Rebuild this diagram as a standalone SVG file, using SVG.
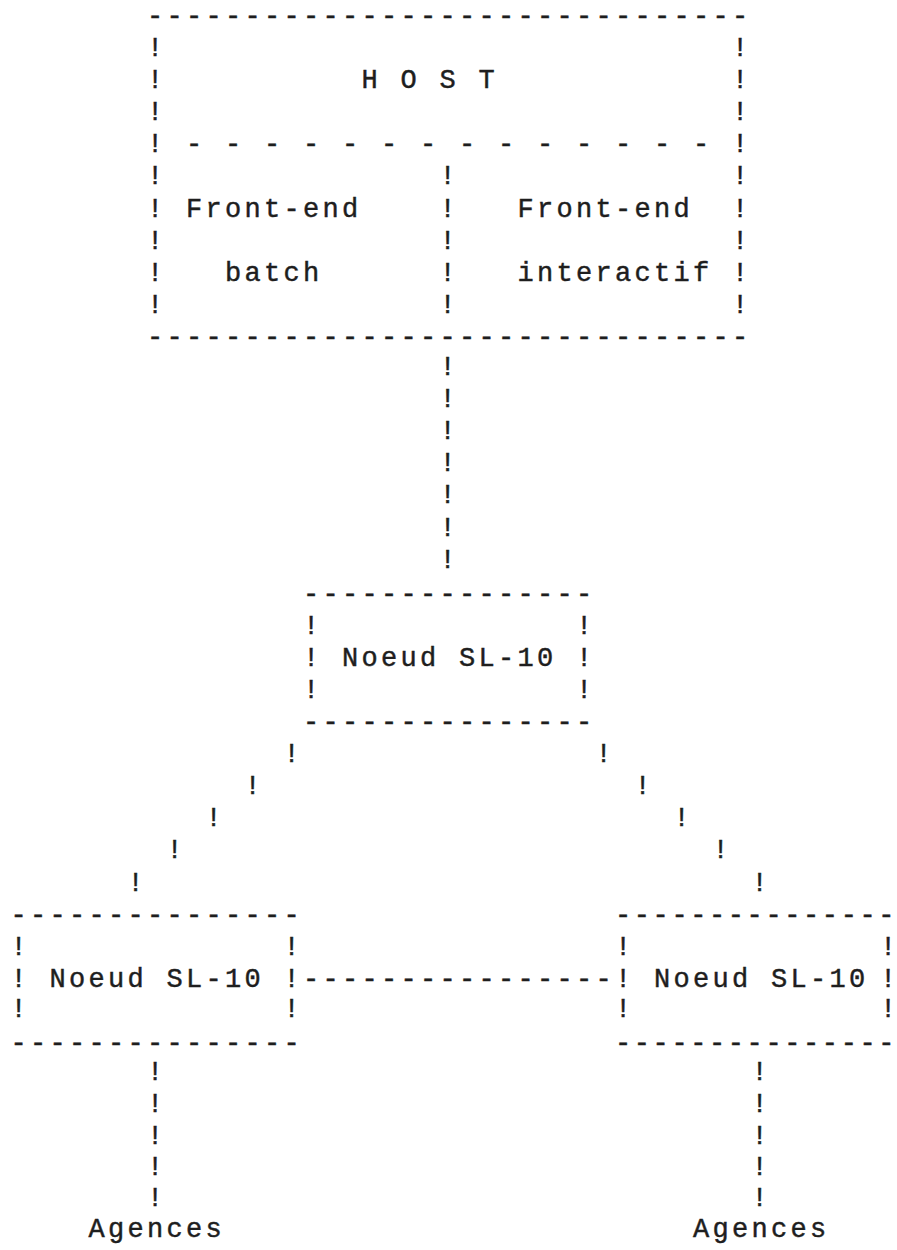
<svg xmlns="http://www.w3.org/2000/svg" width="897" height="1250" viewBox="0 0 897 1250">
<style>
.t{font-family:"Liberation Mono","DejaVu Sans Mono",monospace;font-size:27px;letter-spacing:3.3px;fill:#1e1e1e;stroke:#1e1e1e;stroke-width:0.45px;white-space:pre}
.edge{letter-spacing:2.6px}
.e0{letter-spacing:0}
</style>
<rect width="897" height="1250" fill="#ffffff"/>
<g id="host">
<text class="t" x="147" y="24">-------------------------------</text>
<text class="t"><tspan x="147" y="56">!</tspan><tspan x="147" y="88">!</tspan><tspan x="147" y="120">!</tspan><tspan x="147" y="152">!</tspan><tspan x="147" y="184">!</tspan><tspan x="147" y="217">!</tspan><tspan x="147" y="249">!</tspan><tspan x="147" y="281">!</tspan><tspan x="147" y="313">!</tspan></text>
<text class="t"><tspan x="732" y="56">!</tspan><tspan x="732" y="88">!</tspan><tspan x="732" y="120">!</tspan><tspan x="732" y="152">!</tspan><tspan x="732" y="184">!</tspan><tspan x="732" y="217">!</tspan><tspan x="732" y="249">!</tspan><tspan x="732" y="281">!</tspan><tspan x="732" y="313">!</tspan></text>
<text class="t" x="361.5" y="88" xml:space="preserve">H O S T</text>
<text class="t" x="186" y="152" xml:space="preserve">- - - - - - - - - - - - - -</text>
<text class="t"><tspan x="439.5" y="184">!</tspan><tspan x="439.5" y="217">!</tspan><tspan x="439.5" y="249">!</tspan><tspan x="439.5" y="281">!</tspan><tspan x="439.5" y="313">!</tspan></text>
<text class="t" x="186" y="217">Front-end</text>
<text class="t" x="517.5" y="217">Front-end</text>
<text class="t" x="225" y="281">batch</text>
<text class="t" x="517.5" y="281">interactif</text>
<text class="t" x="147" y="345">-------------------------------</text>
</g>
<g id="noeud-central">
<text class="t" x="303" y="602">---------------</text>
<text class="t"><tspan x="303" y="634">!</tspan><tspan x="303" y="666">!</tspan><tspan x="303" y="698">!</tspan></text>
<text class="t"><tspan x="576" y="634">!</tspan><tspan x="576" y="666">!</tspan><tspan x="576" y="698">!</tspan></text>
<text class="t" x="342" y="666">Noeud SL-10</text>
<text class="t" x="303" y="730">---------------</text>
</g>
<g id="noeud-gauche">
<text class="t" x="10.5" y="923">---------------</text>
<text class="t"><tspan x="10.5" y="955">!</tspan><tspan x="10.5" y="987">!</tspan><tspan x="10.5" y="1017">!</tspan></text>
<text class="t"><tspan x="283.5" y="955">!</tspan><tspan x="283.5" y="987">!</tspan><tspan x="283.5" y="1017">!</tspan></text>
<text class="t" x="49.5" y="987">Noeud SL-10</text>
<text class="t" x="10.5" y="1051">---------------</text>
</g>
<g id="noeud-droite">
<text class="t edge" x="615" y="923">---------------</text>
<text class="t"><tspan x="615" y="955">!</tspan><tspan x="615" y="987">!</tspan><tspan x="615" y="1017">!</tspan></text>
<text class="t e0"><tspan x="880" y="955">!</tspan><tspan x="880" y="987">!</tspan><tspan x="880" y="1017">!</tspan></text>
<text class="t" x="654" y="987">Noeud SL-10</text>
<text class="t edge" x="615" y="1051">---------------</text>
</g>
<g id="agences-gauche">
<text class="t" x="88.5" y="1237">Agences</text>
</g>
<g id="agences-droite">
<text class="t" x="693" y="1237">Agences</text>
</g>
<g id="connecteurs">
<text class="t"><tspan x="439.5" y="375">!</tspan><tspan x="439.5" y="407">!</tspan><tspan x="439.5" y="439">!</tspan><tspan x="439.5" y="471">!</tspan><tspan x="439.5" y="503">!</tspan><tspan x="439.5" y="536">!</tspan><tspan x="439.5" y="568">!</tspan></text>
<text class="t"><tspan x="283.5" y="762">!</tspan><tspan x="244.5" y="794">!</tspan><tspan x="205.5" y="826">!</tspan><tspan x="166.5" y="858">!</tspan><tspan x="127.5" y="891">!</tspan></text>
<text class="t"><tspan x="595.5" y="762">!</tspan><tspan x="634.5" y="794">!</tspan><tspan x="673.5" y="826">!</tspan><tspan x="712.5" y="858">!</tspan><tspan x="751.5" y="891">!</tspan></text>
<text class="t" x="303" y="987">----------------</text>
<text class="t"><tspan x="147" y="1080">!</tspan><tspan x="147" y="1112">!</tspan><tspan x="147" y="1144">!</tspan><tspan x="147" y="1175">!</tspan><tspan x="147" y="1206">!</tspan></text>
<text class="t"><tspan x="751.5" y="1080">!</tspan><tspan x="751.5" y="1112">!</tspan><tspan x="751.5" y="1144">!</tspan><tspan x="751.5" y="1175">!</tspan><tspan x="751.5" y="1206">!</tspan></text>
</g>
</svg>
